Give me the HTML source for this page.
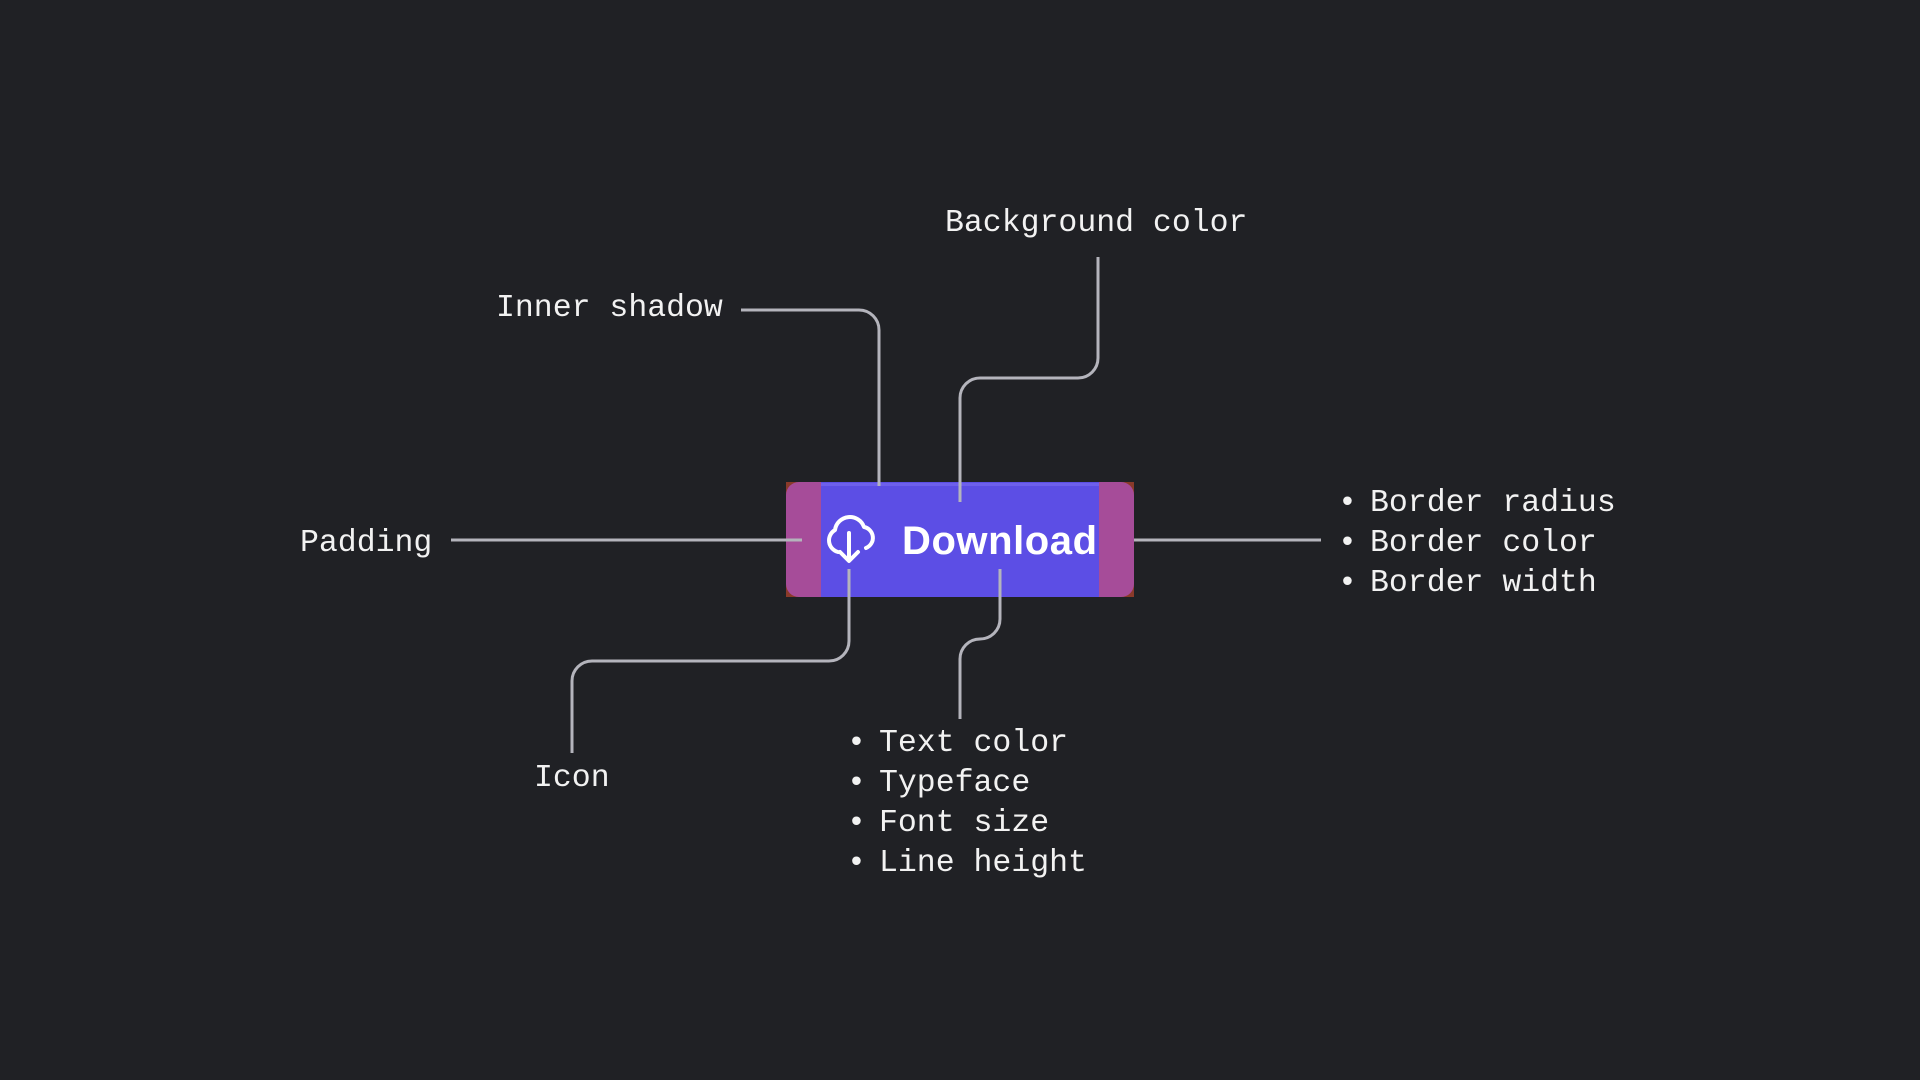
<!DOCTYPE html>
<html><head><meta charset="utf-8"><style>
html,body{margin:0;padding:0;background:#202125;}
svg{display:block}
text{font-family:"Liberation Mono",monospace;font-size:31.5px;fill:#f2f2f2;}
</style></head><body>
<svg width="1920" height="1080" viewBox="0 0 1920 1080" xmlns="http://www.w3.org/2000/svg">
<rect width="1920" height="1080" fill="#202125"/>
<rect x="786" y="482" width="348" height="115" fill="#8a3a2a"/>
<rect x="786" y="482" width="348" height="115" rx="13" fill="#a64c99"/>
<rect x="821" y="482" width="278" height="115" fill="#5c4ee5"/>
<rect x="821" y="483" width="278" height="3" fill="#7a6df0" opacity="0.6"/>
<g fill="none" stroke="#fff" stroke-width="4" stroke-linecap="round" stroke-linejoin="round">
<path d="M838 552 A12 12 0 0 1 835 530 A15 15 0 0 1 864 527 A11 11 0 0 1 866 548"/>
<path d="M849 533 V560 M840 552 L849 561 L858 552"/>
</g>
<text x="902" y="554" textLength="195" style="font-family:'Liberation Sans',sans-serif;font-weight:bold;font-size:40px;fill:#fff">Download</text>
<g fill="none" stroke="#b4b4bc" stroke-width="3">
<path d="M741 310 H859 A20 20 0 0 1 879 330 V486"/>
<path d="M1098 257 V358 A20 20 0 0 1 1078 378 H980 A20 20 0 0 0 960 398 V502"/>
<path d="M451 540 H802"/>
<path d="M1134 540 H1321"/>
<path d="M849 569 V641 A20 20 0 0 1 829 661 H592 A20 20 0 0 0 572 681 V753"/>
<path d="M1000 569 V619 A20 20 0 0 1 980 639 A20 20 0 0 0 960 659 V719"/>
</g>
<text x="945" y="231">Background color</text>
<text x="496" y="316">Inner shadow</text>
<text x="300" y="551">Padding</text>
<text x="534" y="786">Icon</text>
<g>
<text x="1338" y="511">•</text><text x="1370" y="511">Border radius</text>
<text x="1338" y="551">•</text><text x="1370" y="551">Border color</text>
<text x="1338" y="591">•</text><text x="1370" y="591">Border width</text>
<text x="847" y="751">•</text><text x="879" y="751">Text color</text>
<text x="847" y="791">•</text><text x="879" y="791">Typeface</text>
<text x="847" y="831">•</text><text x="879" y="831">Font size</text>
<text x="847" y="871">•</text><text x="879" y="871">Line height</text>
</g>
</svg>
</body></html>
